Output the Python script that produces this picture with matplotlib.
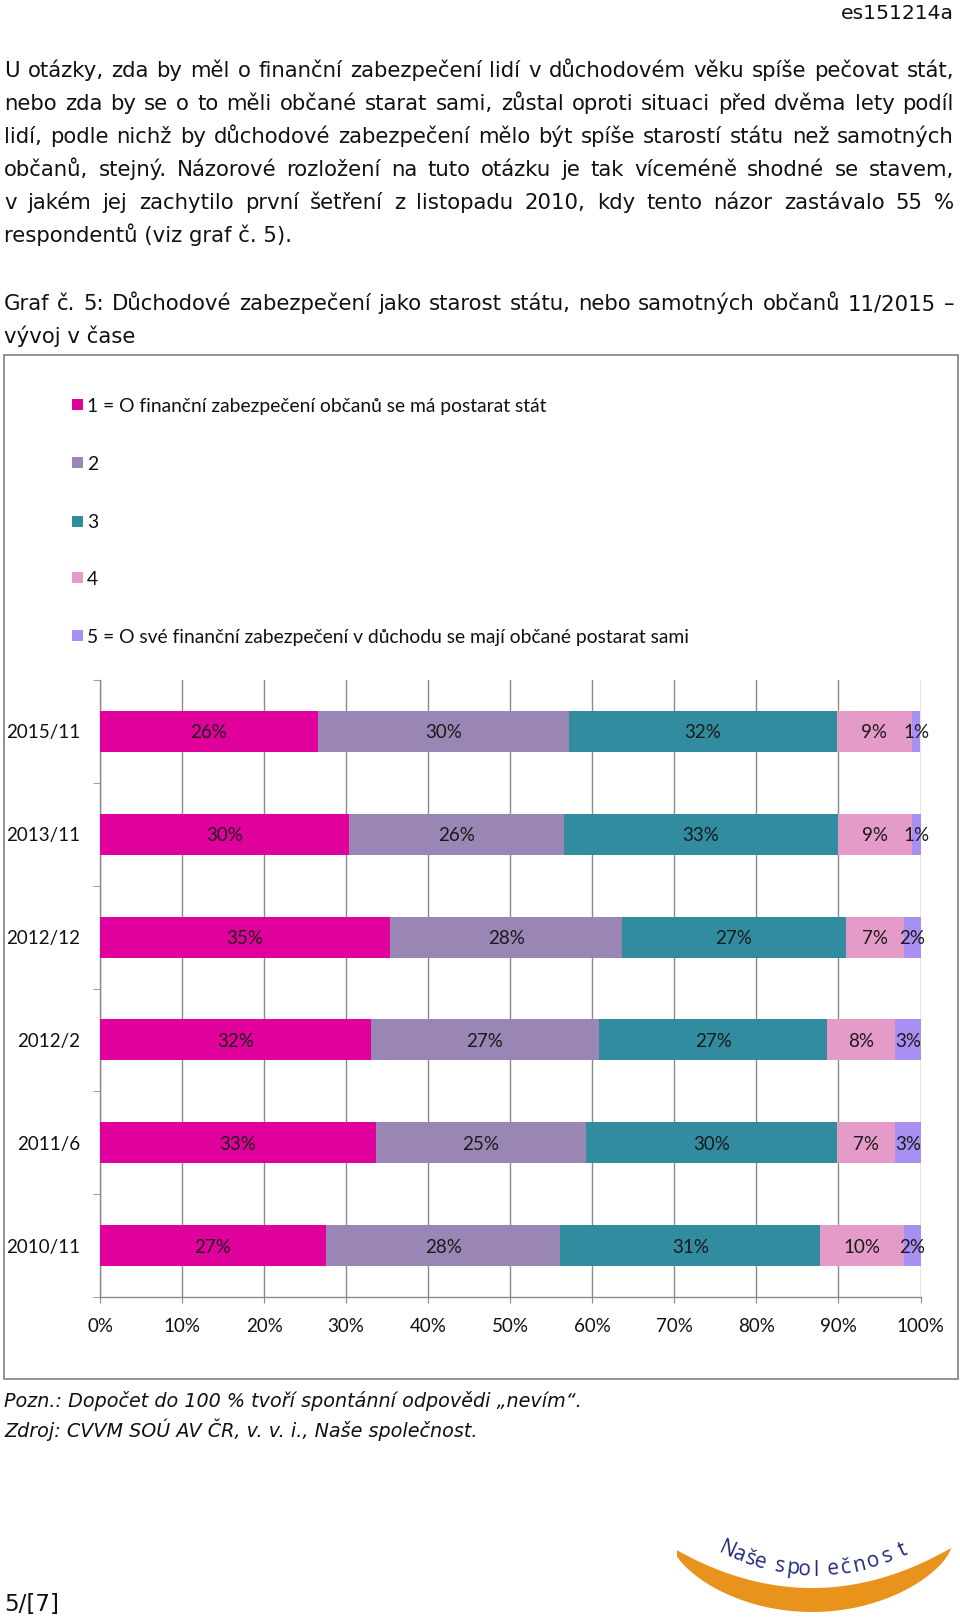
import matplotlib
matplotlib.use("Agg")
import matplotlib.pyplot as plt
from matplotlib.patches import Rectangle, Polygon
import numpy as np

# ---------------- data ----------------
categories = ["2015/11", "2013/11", "2012/12", "2012/2", "2011/6", "2010/11"]
series_names = [
    "1 = O finanční zabezpečení občanů se má postarat stát",
    "2",
    "3",
    "4",
    "5 = O své finanční zabezpečení v důchodu se mají občané postarat sami",
]
s1 = [26, 30, 35, 32, 33, 27]
s2 = [30, 26, 28, 27, 25, 28]
s3 = [32, 33, 27, 27, 30, 31]
s4 = [9, 9, 7, 8, 7, 10]
s5 = [1, 1, 2, 3, 3, 2]
x_ticks = [0, 10, 20, 30, 40, 50, 60, 70, 80, 90, 100]
x_tick_labels = ["0%", "10%", "20%", "30%", "40%", "50%", "60%", "70%", "80%", "90%", "100%"]
colors = ["#E0009B", "#9A86B4", "#318C9F", "#E59BC8", "#A88FF2"]

header_id = "es151214a"
paragraph = [
    "U otázky, zda by měl o finanční zabezpečení lidí v důchodovém věku spíše pečovat stát,",
    "nebo zda by se o to měli občané starat sami, zůstal oproti situaci před dvěma lety podíl",
    "lidí, podle nichž by důchodové zabezpečení mělo být spíše starostí státu než samotných",
    "občanů, stejný. Názorové rozložení na tuto otázku je tak víceméně shodné se stavem,",
    "v jakém jej zachytilo první šetření z listopadu 2010, kdy tento názor zastávalo 55 %",
    "respondentů (viz graf č. 5).",
]
caption = [
    "Graf č. 5: Důchodové zabezpečení jako starost státu, nebo samotných občanů 11/2015 –",
    "vývoj v čase",
]
note = "Pozn.: Dopočet do 100 % tvoří spontánní odpovědi „nevím“."
source = "Zdroj: CVVM SOÚ AV ČR, v. v. i., Naše společnost."
page = "5/[7]"
logo_text = "Naše společnost"

# ---------------- figure ----------------
W, H = 960, 1617
fig = plt.figure(figsize=(9.6, 16.17), dpi=100)
renderer = fig.canvas.get_renderer()


def fx(x):
    return x / W


def fy(y):
    return 1 - y / H


BODY = "DejaVu Sans"
CHART = "Lato"


def text_width(s, size, **kw):
    t = fig.text(0, 0, s, fontsize=size, **kw)
    w = t.get_window_extent(renderer).width
    t.remove()
    return w


def size_for(s, target, **kw):
    return 10 * target / text_width(s, 10, **kw)


def justified(line, y, x0, x1, size, **kw):
    words = line.split(" ")
    widths = [text_width(w, size, **kw) for w in words]
    gap = (x1 - x0 - sum(widths)) / (len(words) - 1)
    x = x0
    for w, wd in zip(words, widths):
        fig.text(fx(x), fy(y), w, fontsize=size, va="baseline", ha="left", **kw)
        x += wd + gap


body_size = size_for(paragraph[5], 289, family=BODY)

# header
fig.text(fx(954), fy(19), header_id, fontsize=body_size * 0.96, family=BODY,
         ha="right", va="baseline", color="#111111")

# paragraph
base_y = [77, 110, 143, 176, 209, 242]
for i, (line, y) in enumerate(zip(paragraph, base_y)):
    if i < len(paragraph) - 1:
        justified(line, y, 4, 954, body_size, family=BODY, color="#111111")
    else:
        fig.text(fx(4), fy(y), line, fontsize=body_size, family=BODY,
                 va="baseline", ha="left", color="#111111")

justified(caption[0], 310, 4, 954, body_size, family=BODY, color="#111111")
fig.text(fx(4), fy(343), caption[1], fontsize=body_size, family=BODY,
         va="baseline", ha="left", color="#111111")

# chart frame
fig.patches.append(Rectangle((fx(4), fy(1379)), fx(958) - fx(4), fy(355) - fy(1379),
                             transform=fig.transFigure, fill=False,
                             edgecolor="#8a8a8a", linewidth=1.3))

# ---------------- chart ----------------
ax_l, ax_r, ax_t, ax_b = 100, 920.5, 680, 1297
ax = fig.add_axes([fx(ax_l), fy(ax_b), fx(ax_r) - fx(ax_l), fy(ax_t) - fy(ax_b)])

series = [s1, s2, s3, s4, s5]
data = np.array(series, dtype=float)
totals = data.sum(axis=0)
shares = data / totals * 100
ypos = np.arange(len(categories))[::-1]
left = np.zeros(len(categories))
chart_size = 13.5
legend_size = 13.9
for k in range(len(series)):
    bars = ax.barh(ypos, shares[k], left=left, height=0.4, color=colors[k],
                   edgecolor="none", zorder=3)
    anns = ax.bar_label(bars, labels=[f"{v}%" for v in series[k]], label_type="center",
                        fontsize=chart_size, family=CHART, color="#1a1a1a", zorder=4)
    for a in anns:
        a.set_va("center_baseline")
    left += shares[k]

ax.set_xlim(0, 100)
ax.set_ylim(-0.5, len(categories) - 0.5)
ax.set_xticks(x_ticks, labels=x_tick_labels)
ax.set_yticks(ypos, labels=categories)
ax.set_yticks(np.arange(-0.5, len(categories), 1.0), minor=True)
ax.grid(axis="x", color="#8a8a8a", linewidth=1.0, zorder=0)
ax.set_axisbelow(True)
for sp in ["top", "right"]:
    ax.spines[sp].set_visible(False)
for sp in ["left", "bottom"]:
    ax.spines[sp].set_color("#8a8a8a")
    ax.spines[sp].set_linewidth(1.0)
ax.tick_params(axis="x", length=4, color="#8a8a8a", pad=11, labelsize=chart_size,
               labelcolor="#111111")
ax.tick_params(axis="y", which="major", length=0, pad=14, labelsize=chart_size,
               labelcolor="#111111")
ax.tick_params(axis="y", which="minor", length=5, color="#8a8a8a")
for lab in ax.get_xticklabels() + ax.get_yticklabels():
    lab.set_family(CHART)
for lab in ax.get_yticklabels():
    lab.set_va("center_baseline")

# legend (manual, Excel-style vertical)
leg_y = [405, 463, 521, 578, 636]
for name, c, y in zip(series_names, colors, leg_y):
    fig.patches.append(Rectangle((fx(72), fy(y + 5.5)), fx(11), 11 / H,
                                 transform=fig.transFigure, facecolor=c, edgecolor="none"))
    fig.text(fx(87), fy(y), name, fontsize=legend_size, family=CHART,
             va="center_baseline", ha="left", color="#111111")

# notes
note_size = body_size * 0.9
fig.text(fx(4), fy(1407), note, fontsize=note_size, family=BODY, style="italic",
         va="baseline", ha="left", color="#111111")
fig.text(fx(4), fy(1437), source, fontsize=note_size, family=BODY, style="italic",
         va="baseline", ha="left", color="#111111")

# page number
fig.text(fx(4), fy(1611), page, fontsize=body_size * 1.08, family=BODY,
         va="baseline", ha="left", color="#111111")

# ---------------- logo ----------------
xs = np.linspace(677, 955, 80)
xc, half = 812, 139
u = np.clip((xs - xc) / half, -1, 1)
upper = 1548 + 40 * (1 - u ** 2)
lower = 1548 + 64 * np.clip(1 - u ** 2, 0, 1) ** 0.7
pts = [(fx(x), fy(y)) for x, y in zip(xs, upper)] + \
      [(fx(x), fy(y)) for x, y in zip(xs[::-1], lower[::-1])]
fig.patches.append(Polygon(pts, closed=True, transform=fig.transFigure,
                           facecolor="#E8941C", edgecolor="none"))

letters_x = [727, 739, 750, 760, 780, 793, 804, 816, 833, 846, 859, 873, 888, 903]
letters = [ch for ch in logo_text if ch != " "]
for ch, x in zip(letters, letters_x):
    yy = 1570 - 20 * ((x - 815) / 88.0) ** 2
    slope = -40 * (x - 815) / 88.0 ** 2
    rot = -np.degrees(np.arctan(slope))
    fig.text(fx(x), fy(yy), ch, fontsize=15, family="Open Sans", color="#1F2A78",
             ha="center", va="center", rotation=rot, rotation_mode="anchor")

fig.savefig("out.png", dpi=100, facecolor="white")
